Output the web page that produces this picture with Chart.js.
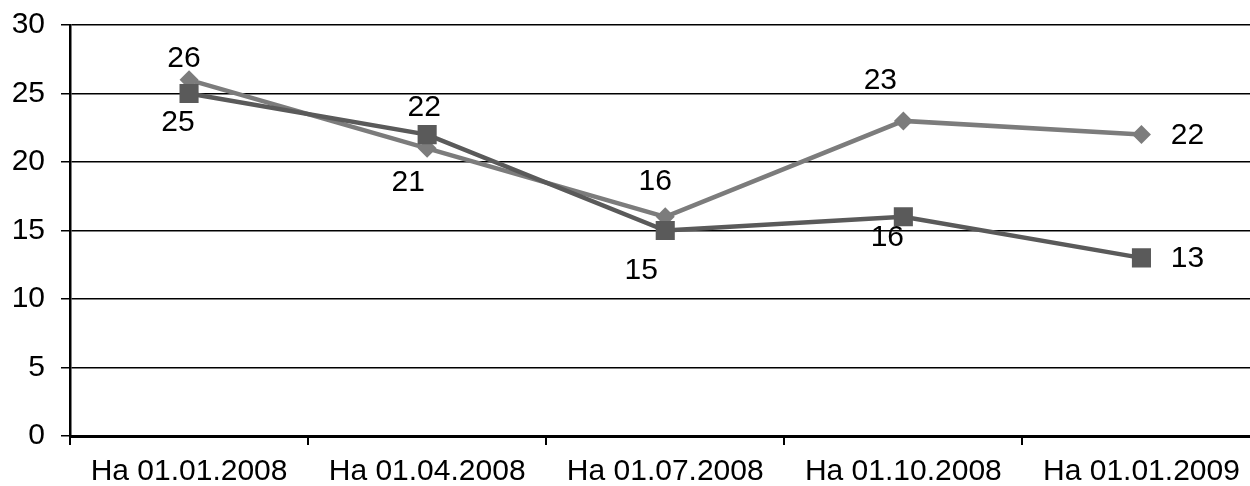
<!DOCTYPE html>
<html>
<head>
<meta charset="utf-8">
<script src="https://cdn.jsdelivr.net/npm/chart.js@4"></script>
<style>
  html, body { margin: 0; padding: 0; background: #fff; overflow: hidden; }
  #wrap { width: 1274px; height: 486px; }
</style>
</head>
<body>
<div id="wrap"><canvas id="chart"></canvas></div>
<script>
// данные
const categories = ['На 01.01.2008', 'На 01.04.2008', 'На 01.07.2008', 'На 01.10.2008', 'На 01.01.2009'];
const seriesDiamond = [26, 21, 16, 23, 22];
const seriesSquare = [25, 22, 15, 16, 13];
const yTicks = [0, 5, 10, 15, 20, 25, 30];

// где рисовать подписи значений (смещение от точки)
const diamondLabelPos = [[-5, -21], [-19, 34], [-10, -35], [-23, -40], [46, 1]];
const squareLabelPos = [[-11, 29], [-3, -27], [-24, 40], [-16, 21], [46, 1]];

const FONT = '"Liberation Sans", Arial, sans-serif';

const valueLabels = {
  id: 'valueLabels',
  afterDatasetsDraw(chart) {
    const ctx = chart.ctx;
    ctx.save();
    ctx.font = '30px ' + FONT;
    ctx.fillStyle = '#000';
    ctx.textAlign = 'center';
    ctx.textBaseline = 'middle';
    chart.data.datasets.forEach((ds, i) => {
      const meta = chart.getDatasetMeta(i);
      meta.data.forEach((pt, j) => {
        const off = ds.labelPos[j];
        ctx.fillText(String(ds.data[j]), pt.x + off[0], pt.y + off[1]);
      });
    });
    ctx.restore();
  }
};

new Chart(document.getElementById('chart'), {
  type: 'line',
  data: {
    labels: categories,
    datasets: [
      {
        label: 'square',
        data: seriesSquare,
        labelPos: squareLabelPos,
        borderColor: '#5a5a5a',
        backgroundColor: '#5a5a5a',
        borderWidth: 4.5,
        pointStyle: 'rect',
        pointRadius: 13.5,
        pointBorderWidth: 0,
        tension: 0
      },
      {
        label: 'diamond',
        data: seriesDiamond,
        labelPos: diamondLabelPos,
        borderColor: '#7c7c7c',
        backgroundColor: '#7c7c7c',
        borderWidth: 4.5,
        pointStyle: 'rectRot',
        pointRadius: 9.5,
        pointBorderWidth: 0,
        tension: 0
      }
    ]
  },
  options: {
    responsive: true,
    maintainAspectRatio: false,
    animation: false,
    layout: { padding: { top: 25, right: 0, left: 0, bottom: 0 } },
    plugins: { legend: { display: false }, tooltip: { enabled: false } },
    scales: {
      x: {
        offset: true,
        grid: { offset: true, drawOnChartArea: false, drawTicks: true, tickLength: 9, color: '#000', lineWidth: 2 },
        border: { display: true, color: '#000', width: 3 },
        ticks: { color: '#000', font: { family: FONT, size: 30 }, padding: 9, maxRotation: 0, autoSkip: false },
        afterFit(scale) {
          scale.height = 50;
          scale.paddingLeft = 0;
          scale.paddingRight = 0;
        }
      },
      y: {
        min: 0,
        max: 30,
        afterBuildTicks(scale) { scale.ticks = yTicks.map(v => ({ value: v })); },
        grid: { color: '#000', lineWidth: 1.5, tickLength: 9 },
        border: { display: true, color: '#000', width: 2.5 },
        ticks: { color: '#000', font: { family: FONT, size: 30 }, padding: 16 },
        afterFit(scale) {
          scale.width = 70;
          scale.paddingTop = 0;
          scale.paddingBottom = 0;
        }
      }
    }
  },
  plugins: [valueLabels]
});
</script>
</body>
</html>
